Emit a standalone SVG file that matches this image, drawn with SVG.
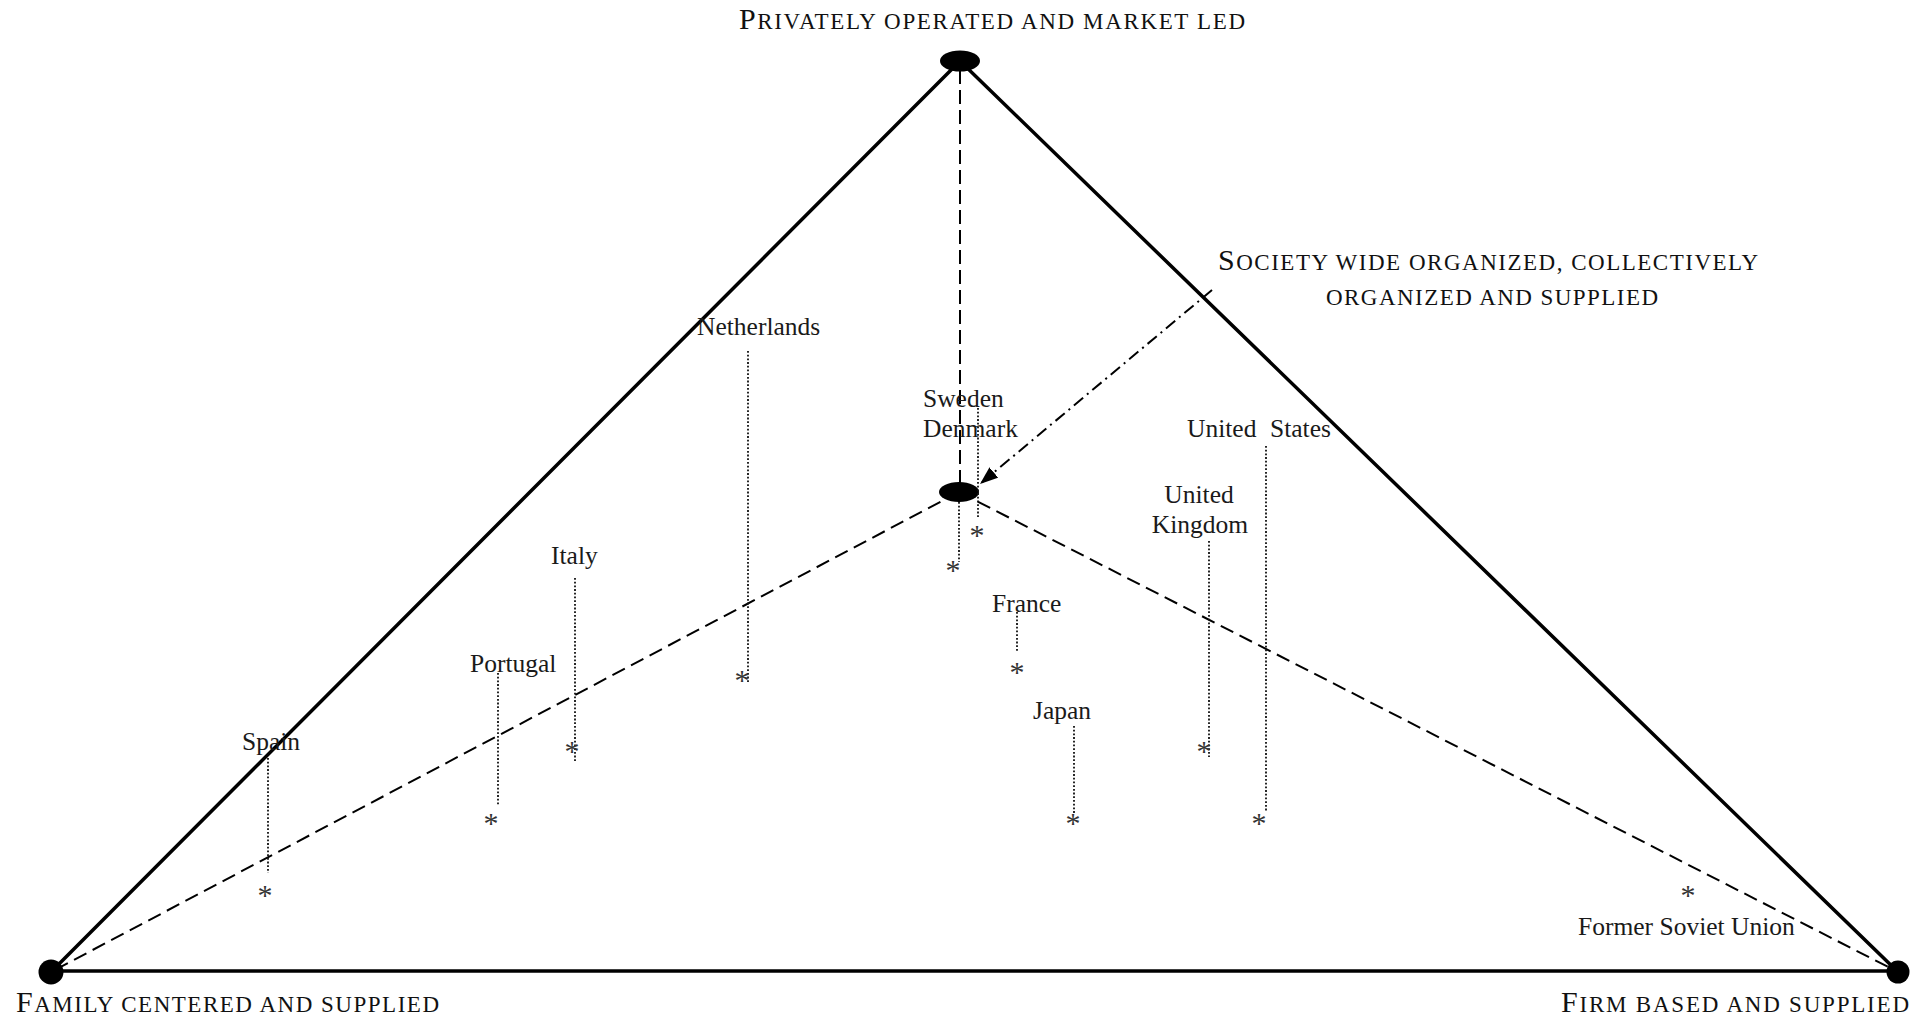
<svg xmlns="http://www.w3.org/2000/svg" width="1912" height="1018" viewBox="0 0 1912 1018">
<style>
  .edge{stroke:#000;stroke-width:3.5;fill:none;stroke-linecap:round}
  .dash{stroke:#000;stroke-width:2;fill:none;stroke-dasharray:14 7}
  .vdash{stroke:#000;stroke-width:2;fill:none;stroke-dasharray:14 6}
  .dashdot{stroke:#000;stroke-width:2;fill:none;stroke-dasharray:12 5 2 5}
  .dot{stroke:#111;stroke-width:1.8;fill:none;stroke-dasharray:1.8 1.9}
  .lbl{font-family:"Liberation Serif","Times New Roman",serif;font-size:25.5px;fill:#1a1a1a}
  .head{font-family:"Liberation Serif","Times New Roman",serif;font-size:23px;fill:#111}
  .big{font-size:30px}
  .star{font-family:"Liberation Serif","Times New Roman",serif;font-size:30px;fill:#333;text-anchor:middle}
  .node{fill:#000}
</style>
<defs>
  <marker id="arrowBig" viewBox="0 0 16 12" refX="16" refY="6" markerWidth="18" markerHeight="14" markerUnits="userSpaceOnUse" orient="auto">
    <path d="M0,0 L16,6 L0,12 z" fill="#000"/>
  </marker>
</defs>
<rect width="1912" height="1018" fill="#fff"/>

<g id="connectors">
  <line class="edge" x1="960" y1="61" x2="51" y2="972"/>
  <line class="edge" x1="960" y1="61" x2="1898" y2="972"/>
  <line class="edge" x1="51" y1="971" x2="1898" y2="971"/>
  <line class="vdash" x1="960" y1="70" x2="960" y2="484"/>
  <line class="dash" x1="959" y1="492" x2="51" y2="972"/>
  <line class="dash" x1="959" y1="492" x2="1898" y2="972"/>
  <line class="dashdot" x1="1212" y1="290" x2="980" y2="484" marker-end="url(#arrowBig)"/>
</g>

<g id="node-private">
  <ellipse class="node" cx="960" cy="61" rx="20" ry="10.5"/>
  <text class="head" x="739" y="29" textLength="506" lengthAdjust="spacing"><tspan class="big">P</tspan>RIVATELY OPERATED AND MARKET LED</text>
</g>
<g id="node-society">
  <ellipse class="node" cx="959" cy="492" rx="20" ry="10"/>
  <text class="head" x="1218" y="270" textLength="540" lengthAdjust="spacing"><tspan class="big">S</tspan>OCIETY WIDE ORGANIZED, COLLECTIVELY</text>
  <text class="head" x="1326" y="305" textLength="332" lengthAdjust="spacing">ORGANIZED AND SUPPLIED</text>
</g>
<g id="node-family">
  <circle class="node" cx="51" cy="972" r="12.5"/>
  <text class="head" x="16" y="1012" textLength="423" lengthAdjust="spacing"><tspan class="big">F</tspan>AMILY CENTERED AND SUPPLIED</text>
</g>
<g id="node-firm">
  <circle class="node" cx="1898" cy="972" r="11.5"/>
  <text class="head" x="1561" y="1012" textLength="348" lengthAdjust="spacing"><tspan class="big">F</tspan>IRM BASED AND SUPPLIED</text>
</g>

<g id="country-spain">
  <text class="lbl" x="242" y="750">Spain</text>
  <line class="dot" x1="268" y1="758" x2="268" y2="873"/>
  <text class="star" x="265" y="905">*</text>
</g>
<g id="country-portugal">
  <text class="lbl" x="470" y="672">Portugal</text>
  <line class="dot" x1="498" y1="673" x2="498" y2="806"/>
  <text class="star" x="491" y="833">*</text>
</g>
<g id="country-italy">
  <text class="lbl" x="551" y="564">Italy</text>
  <line class="dot" x1="575" y1="578" x2="575" y2="763"/>
  <text class="star" x="572" y="761">*</text>
</g>
<g id="country-netherlands">
  <text class="lbl" x="697" y="335">Netherlands</text>
  <line class="dot" x1="748" y1="351" x2="748" y2="684"/>
  <text class="star" x="742" y="690">*</text>
</g>
<g id="country-sweden">
  <text class="lbl" x="923" y="407">Sweden</text>
  <line class="dot" x1="959" y1="502" x2="959" y2="562"/>
  <text class="star" x="953" y="580">*</text>
</g>
<g id="country-denmark">
  <text class="lbl" x="923" y="437">Denmark</text>
  <line class="dot" x1="978" y1="408" x2="978" y2="518"/>
  <text class="star" x="977" y="545">*</text>
</g>
<g id="country-france">
  <text class="lbl" x="992" y="612">France</text>
  <line class="dot" x1="1017" y1="612" x2="1017" y2="651"/>
  <text class="star" x="1017" y="682">*</text>
</g>
<g id="country-japan">
  <text class="lbl" x="1033" y="719">Japan</text>
  <line class="dot" x1="1074" y1="726" x2="1074" y2="813"/>
  <text class="star" x="1073" y="833">*</text>
</g>
<g id="country-uk">
  <text class="lbl" x="1199" y="503" text-anchor="middle">United</text>
  <text class="lbl" x="1200" y="533" text-anchor="middle">Kingdom</text>
  <line class="dot" x1="1209" y1="541" x2="1209" y2="757"/>
  <text class="star" x="1204" y="761">*</text>
</g>
<g id="country-us">
  <text class="lbl" y="437"><tspan x="1187">United</tspan> <tspan x="1270">States</tspan></text>
  <line class="dot" x1="1266" y1="446" x2="1266" y2="812"/>
  <text class="star" x="1259" y="833">*</text>
</g>
<g id="country-fsu">
  <text class="lbl" x="1578" y="935">Former Soviet Union</text>
  <text class="star" x="1688" y="905">*</text>
</g>
</svg>
